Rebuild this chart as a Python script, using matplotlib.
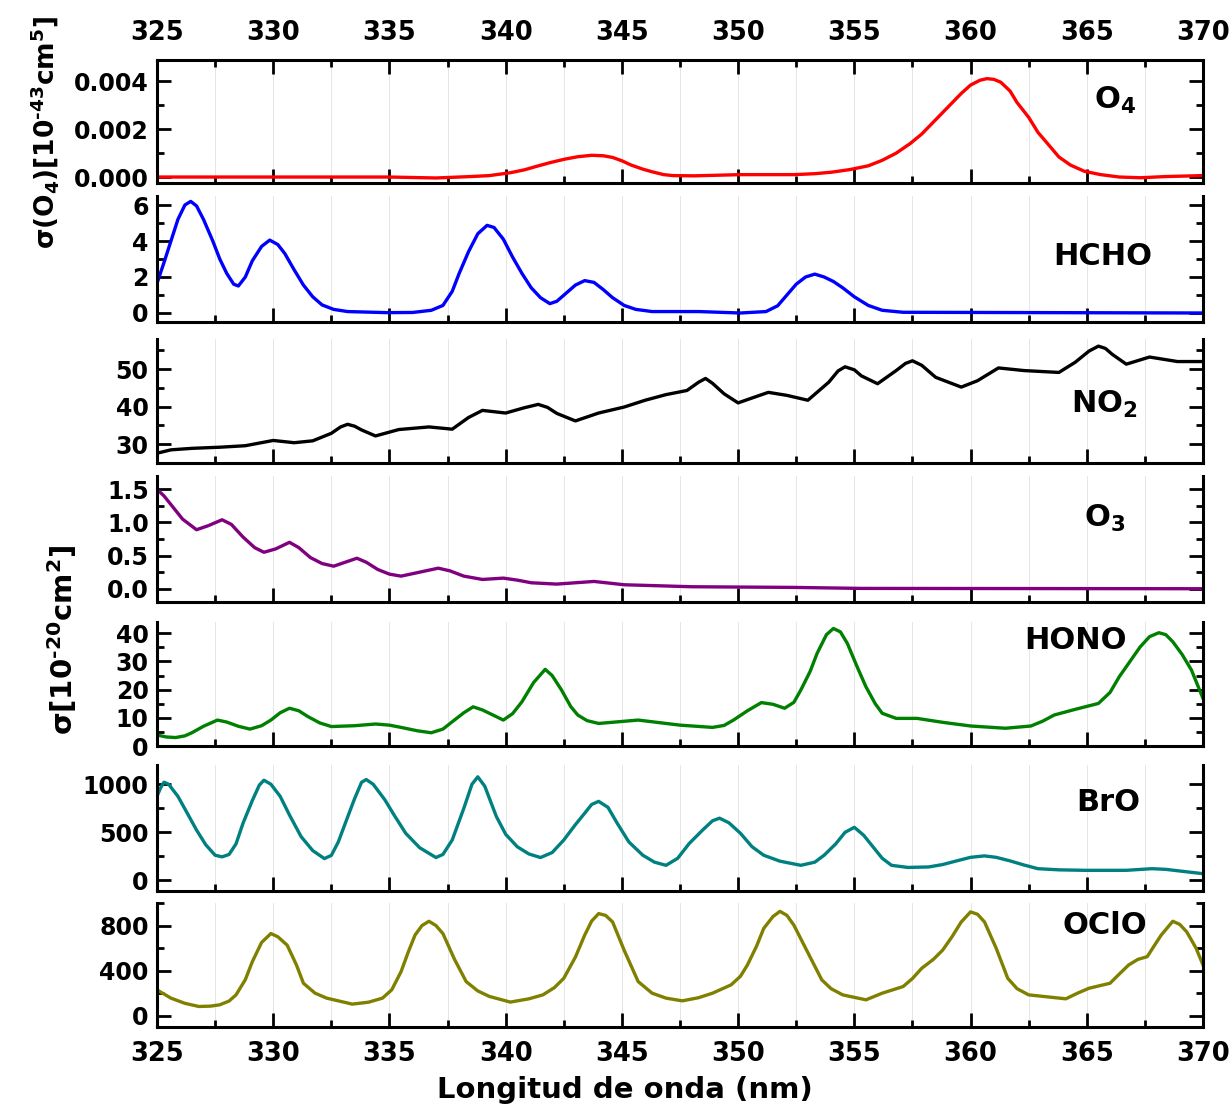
import matplotlib
matplotlib.use("Agg")
import matplotlib.pyplot as plt
from matplotlib.ticker import MultipleLocator

plt.rcParams['font.family'] = ['DejaVu Sans']
plt.rcParams['font.weight'] = 'bold'
plt.rcParams['mathtext.fontset'] = 'dejavusans'
plt.rcParams['mathtext.default'] = 'bf'

# ---- data (wavelength nm, cross section) ----
o4_wl = [325, 335, 337, 338.5, 339.3, 340.2, 340.8, 341.3, 341.9, 342.5, 343.1, 343.7, 344.2,
         344.6, 345.0, 345.4, 345.9, 346.3, 346.8, 347.2, 348.1, 350.1, 352.4, 353.3, 354,
         354.8, 355.6, 356.2, 356.8, 357.4, 357.9, 358.5, 359.1, 359.6, 360, 360.4, 360.7,
         361, 361.3, 361.7, 362, 362.5, 362.9, 363.4, 363.8, 364.3, 364.9, 365.6, 366.4,
         367.3, 368.4, 370]
o4_val = [0, 0, -0.00004, 0.00002, 0.00006, 0.00018, 0.0003, 0.00044, 0.0006, 0.00074,
          0.00085, 0.00091, 0.00089, 0.00082, 0.00068, 0.0005, 0.00033, 0.00022, 0.0001,
          0.00006, 0.00005, 0.0001, 0.0001, 0.00014, 0.0002, 0.00031, 0.00047, 0.0007,
          0.001, 0.0014, 0.0018, 0.0024, 0.003, 0.0035, 0.00385, 0.00405, 0.00412, 0.00409,
          0.00397, 0.0036, 0.00312, 0.0025, 0.00187, 0.0013, 0.00084, 0.0005, 0.00024,
          0.0001, 0.0, -0.00003, 0.00002, 0.00006]

hcho_wl = [325, 325.3, 325.6, 325.9, 326.2, 326.45, 326.7, 327.0, 327.4, 327.7, 328.0, 328.3,
           328.5, 328.8, 329.1, 329.5, 329.85, 330.2, 330.5, 330.9, 331.3, 331.7, 332.1,
           332.6, 333.2, 334.9, 336.0, 336.8, 337.3, 337.7, 338.0, 338.4, 338.8, 339.2,
           339.5, 339.9, 340.3, 340.7, 341.1, 341.5, 341.9, 342.2, 342.6, 343.0, 343.4,
           343.8, 344.2, 344.6, 345.1, 345.6, 346.3, 348.3, 350.1, 351.2, 351.7, 352.1,
           352.5, 352.9, 353.3, 353.7, 354.1, 354.5, 355.0, 355.6, 356.2, 357.1, 370]
hcho_val = [1.65, 2.8, 4.0, 5.2, 6.0, 6.2, 5.95, 5.2, 4.0, 3.0, 2.2, 1.6, 1.5, 2.0, 2.9, 3.7,
            4.05, 3.8, 3.3, 2.4, 1.55, 0.9, 0.45, 0.2, 0.08, 0.02, 0.03, 0.15, 0.42, 1.2,
            2.2, 3.4, 4.4, 4.87, 4.75, 4.1, 3.1, 2.2, 1.4, 0.85, 0.52, 0.65, 1.1, 1.55, 1.8,
            1.7, 1.3, 0.85, 0.42, 0.2, 0.08, 0.08, 0.0, 0.08, 0.4, 1.0, 1.6, 2.0, 2.16, 2.0,
            1.75, 1.4, 0.9, 0.42, 0.15, 0.04, 0.0]

no2_wl = [325, 325.6, 326.5, 327.7, 328.8, 330, 330.9, 331.7, 332.5, 332.9, 333.2, 333.5,
          333.8, 334.4, 335.4, 336.7, 337.7, 338.4, 339, 340, 340.8, 341.4, 341.8, 342.2,
          343, 344, 345.1, 346, 346.9, 347.8, 348.3, 348.6, 348.9, 349.4, 350, 350.6, 351.3,
          352.1, 353, 353.9, 354.3, 354.6, 355.0, 355.3, 356, 356.8, 357.2, 357.5, 357.9,
          358.5, 359.6, 360.3, 361.2, 362.3, 363.8, 364.5, 365.1, 365.5, 365.8, 366.1,
          366.7, 367.7, 368.9, 370]
no2_val = [27.6, 28.5, 28.9, 29.2, 29.6, 31.0, 30.4, 30.9, 32.9, 34.6, 35.3, 34.8, 33.8,
           32.2, 33.9, 34.6, 34.0, 37.1, 39.0, 38.3, 39.7, 40.6, 39.8, 38.2, 36.2, 38.3,
           39.9, 41.7, 43.2, 44.3, 46.5, 47.5, 46.2, 43.4, 41.0, 42.3, 43.8, 43.0, 41.7,
           46.5, 49.5, 50.6, 49.8, 48.2, 46.1, 49.6, 51.5, 52.2, 51.0, 47.8, 45.2, 46.9,
           50.3, 49.6, 49.1, 51.8, 54.8, 56.1, 55.5, 53.9, 51.3, 53.2, 52.0, 52.0]

o3_wl = [325, 325.3, 326.1, 326.7, 327.2, 327.8, 328.2, 328.7, 329.2, 329.6, 330.1, 330.7,
         331.1, 331.6, 332.1, 332.6, 333.1, 333.6, 334.0, 334.5, 335.0, 335.5, 336.3, 337.1,
         337.6, 338.2, 339, 339.9, 340.5, 341.1, 342.2, 343.8, 345.1, 348, 352.4, 355.3, 370]
o3_val = [1.5, 1.4, 1.05, 0.89, 0.95, 1.04, 0.97, 0.78, 0.62, 0.55, 0.6, 0.70, 0.62, 0.47,
          0.38, 0.34, 0.4, 0.46, 0.4, 0.29, 0.22, 0.19, 0.25, 0.31, 0.27, 0.19, 0.14, 0.16,
          0.13, 0.09, 0.07, 0.11, 0.06, 0.03, 0.02, 0.005, 0.0]

hono_wl = [325, 325.4, 325.8, 326.2, 326.5, 327.0, 327.6, 328.0, 328.5, 329, 329.5, 329.9,
           330.3, 330.7, 331.1, 331.5, 332.0, 332.5, 333.5, 334.4, 335.0, 335.5, 336.2,
           336.8, 337.3, 337.7, 338.2, 338.6, 339.0, 339.3, 339.9, 340.3, 340.7, 341.2,
           341.7, 342.0, 342.4, 342.8, 343.1, 343.5, 344, 345.7, 347.5, 348.9, 349.4, 349.8,
           350.4, 351, 351.5, 352, 352.4, 352.7, 353.1, 353.4, 353.8, 354.1, 354.4, 354.7,
           355.1, 355.5, 355.9, 356.2, 356.8, 357.7, 358.8, 360, 361.5, 362.6, 363.1, 363.6,
           364.5, 365.5, 366.0, 366.4, 366.9, 367.3, 367.7, 368.1, 368.4, 368.7, 369.1,
           369.5, 370]
hono_val = [3.9, 3.2, 3.0, 3.6, 4.7, 7.0, 9.2, 8.5, 7.0, 6.0, 7.2, 9.2, 11.8, 13.4, 12.5,
            10.4, 8.2, 6.9, 7.2, 7.8, 7.4, 6.6, 5.4, 4.7, 6.0, 8.6, 11.8, 13.9, 12.8, 11.6,
            9.2, 11.5, 15.7, 22.5, 27.2, 25.0, 19.9, 14.0, 11.0, 9.0, 8.0, 9.2, 7.4, 6.6,
            7.3, 9.2, 12.5, 15.4, 14.8, 13.4, 15.5, 19.9, 26.5, 32.9, 39.5, 41.7, 40.5, 36.4,
            28.5, 21.0, 15.0, 11.6, 9.8, 9.8, 8.4, 7.1, 6.3, 7.1, 8.8, 11.0, 13.0, 15.1,
            19.0, 24.6, 30.5, 35.2, 38.8, 40.2, 39.5, 37.0, 32.5, 27.0, 16.9]

bro_wl = [325, 325.15, 325.3, 325.5, 325.9, 326.3, 326.7, 327.1, 327.5, 327.8, 328.1, 328.4,
          328.7, 329.1, 329.4, 329.6, 329.9, 330.3, 330.7, 331.2, 331.7, 332.2, 332.5,
          332.8, 333.1, 333.5, 333.8, 334.0, 334.3, 334.8, 335.2, 335.7, 336.3, 337, 337.3,
          337.7, 338.2, 338.55, 338.8, 339.1, 339.6, 340.0, 340.5, 341.0, 341.5, 342,
          342.5, 343.0, 343.4, 343.7, 344, 344.4, 344.8, 345.3, 345.9, 346.4, 346.9, 347.4,
          347.9, 348.5, 348.9, 349.2, 349.6, 350.1, 350.6, 351.1, 351.8, 352.7, 353.3,
          353.7, 354.2, 354.6, 355, 355.4, 355.8, 356.2, 356.6, 357.3, 358.2, 358.8, 359.4,
          360, 360.6, 361.1, 361.7, 362.3, 362.9, 363.8, 364.9, 366.7, 367.8, 368.4, 369,
          370]
bro_val = [874, 960, 1021, 1000, 874, 700, 524, 370, 262, 245, 270, 380, 594, 830, 990,
           1042, 1000, 874, 680, 455, 310, 227, 260, 400, 594, 850, 1020, 1049, 1000, 839,
           680, 490, 340, 238, 270, 420, 750, 1000, 1077, 980, 664, 480, 350, 275, 238, 290,
           420, 580, 699, 790, 822, 760, 594, 400, 262, 190, 157, 230, 385, 530, 620, 647,
           600, 490, 350, 262, 200, 157, 190, 262, 380, 500, 552, 470, 350, 230, 157, 135,
           140, 165, 203, 240, 255, 240, 203, 160, 122, 110, 105, 105, 122, 115, 98, 70]

oclo_wl = [325, 325.6, 326.2, 326.8, 327.3, 327.7, 328.1, 328.4, 328.8, 329.1, 329.5, 329.9,
           330.2, 330.6, 331.0, 331.3, 331.8, 332.3, 333.4, 334.1, 334.7, 335.1, 335.5,
           335.8, 336.1, 336.4, 336.7, 337.0, 337.3, 337.8, 338.3, 338.8, 339.3, 340.2,
           341.0, 341.6, 342.1, 342.5, 343.0, 343.4, 343.7, 344, 344.3, 344.6, 345.1, 345.7,
           346.3, 346.9, 347.6, 348.3, 348.9, 349.7, 350.1, 350.4, 350.8, 351.1, 351.5,
           351.8, 352.1, 352.4, 353.0, 353.6, 354.0, 354.5, 355.5, 356.2, 357.1, 357.5,
           357.9, 358.4, 358.8, 359.2, 359.6, 360, 360.3, 360.6, 361.1, 361.6, 362.0, 362.5,
           364.1, 364.6, 365.1, 366, 366.4, 366.8, 367.2, 367.6, 367.9, 368.2, 368.7, 369.0,
           369.3, 369.7, 370]
oclo_val = [229, 156, 110, 82, 85, 97, 130, 185, 320, 479, 650, 729, 700, 626, 450, 288,
            200, 156, 103, 120, 156, 230, 391, 560, 715, 800, 838, 800, 729, 500, 303, 220,
            171, 121, 150, 185, 250, 332, 520, 715, 840, 906, 890, 832, 580, 303, 200, 156,
            132, 160, 200, 274, 350, 450, 620, 774, 880, 926, 890, 803, 560, 318, 240, 185,
            141, 200, 259, 330, 421, 500, 582, 700, 832, 921, 900, 832, 600, 332, 240, 185,
            150, 200, 244, 288, 370, 450, 500, 524, 620, 715, 838, 810, 744, 600, 450]

series = [
    (o4_wl, o4_val, 'red', r'O$_4$', (-0.00025, 0.0049), 0.002, 0.001, (0.916, 0.67)),
    (hcho_wl, hcho_val, 'blue', 'HCHO', (-0.5, 6.5), 2, 1, (0.904, 0.52)),
    (no2_wl, no2_val, 'black', r'NO$_2$', (25, 58), 10, 5, (0.906, 0.47)),
    (o3_wl, o3_val, '#800080', r'O$_3$', (-0.2, 1.7), 0.5, 0.25, (0.906, 0.66)),
    (hono_wl, hono_val, '#008000', 'HONO', (0, 44), 10, 5, (0.878, 0.85)),
    (bro_wl, bro_val, '#008080', 'BrO', (-110, 1200), 500, 250, (0.909, 0.70)),
    (oclo_wl, oclo_val, '#808000', 'OClO', (-100, 1000), 400, 200, (0.906, 0.82)),
]

# panel extents in pixels (top, bottom)
panels_px = [(60, 183), (196, 322), (339, 463), (476, 602), (622, 746), (765, 891), (903, 1027)]
W, H = 1230, 1108
left, right = 157, 1203

fig = plt.figure(figsize=(W / 100, H / 100), dpi=100)

for i, ((wl, val, col, name, ylim, maj, mnr, lpos), (t, b)) in enumerate(zip(series, panels_px)):
    ax = fig.add_axes([left / W, 1 - b / H, (right - left) / W, (b - t) / H])
    ax.plot(wl, val, color=col, lw=2.4, solid_joinstyle='round')
    ax.set_xlim(325, 370)
    ax.set_ylim(*ylim)
    ax.xaxis.set_major_locator(MultipleLocator(5))
    ax.xaxis.set_minor_locator(MultipleLocator(2.5))
    ax.yaxis.set_major_locator(MultipleLocator(maj))
    ax.yaxis.set_minor_locator(MultipleLocator(mnr))
    for xv in [325 + 2.5 * k for k in range(1, 18)]:
        ax.axvline(xv, color='#e6e6e6', lw=0.7, zorder=0)
    for sp in ax.spines.values():
        sp.set_linewidth(2.2)
    top = (i == 0)
    ax.spines['top'].set_visible(top)
    ax.tick_params(which='both', direction='in', width=2, left=True, right=True,
                   top=top, bottom=True)
    ax.tick_params(which='major', length=10)
    ax.tick_params(which='minor', length=5)
    ax.tick_params(axis='y', labelsize=17, pad=6)
    ax.tick_params(axis='x', labelsize=18.5, labelbottom=(i == 6), labeltop=top, pad=10)
    for lab in ax.get_xticklabels() + ax.get_yticklabels():
        lab.set_fontweight('bold')
    if i == 0:
        ax.set_yticks([0, 0.002, 0.004])
        ax.set_yticklabels(['0.000', '0.002', '0.004'])
    ax.text(lpos[0], lpos[1], name, transform=ax.transAxes, ha='center', va='center',
            fontsize=22, fontweight='bold')

fig.text(45 / W, 1 - 133 / H, r'σ(O$_4$)[10$^{\text{-}43}$cm$^5$]', rotation=90,
         ha='center', va='center', fontsize=19, fontweight='bold')
fig.text(62 / W, 1 - 640 / H, r'σ[10$^{\text{-}20}$cm$^2$]', rotation=90,
         ha='center', va='center', fontsize=21, fontweight='bold')
fig.text(625 / W, 1 - 1090 / H, 'Longitud de onda (nm)', ha='center', va='center',
         fontsize=21, fontweight='bold')

fig.savefig('out.png', dpi=100)
